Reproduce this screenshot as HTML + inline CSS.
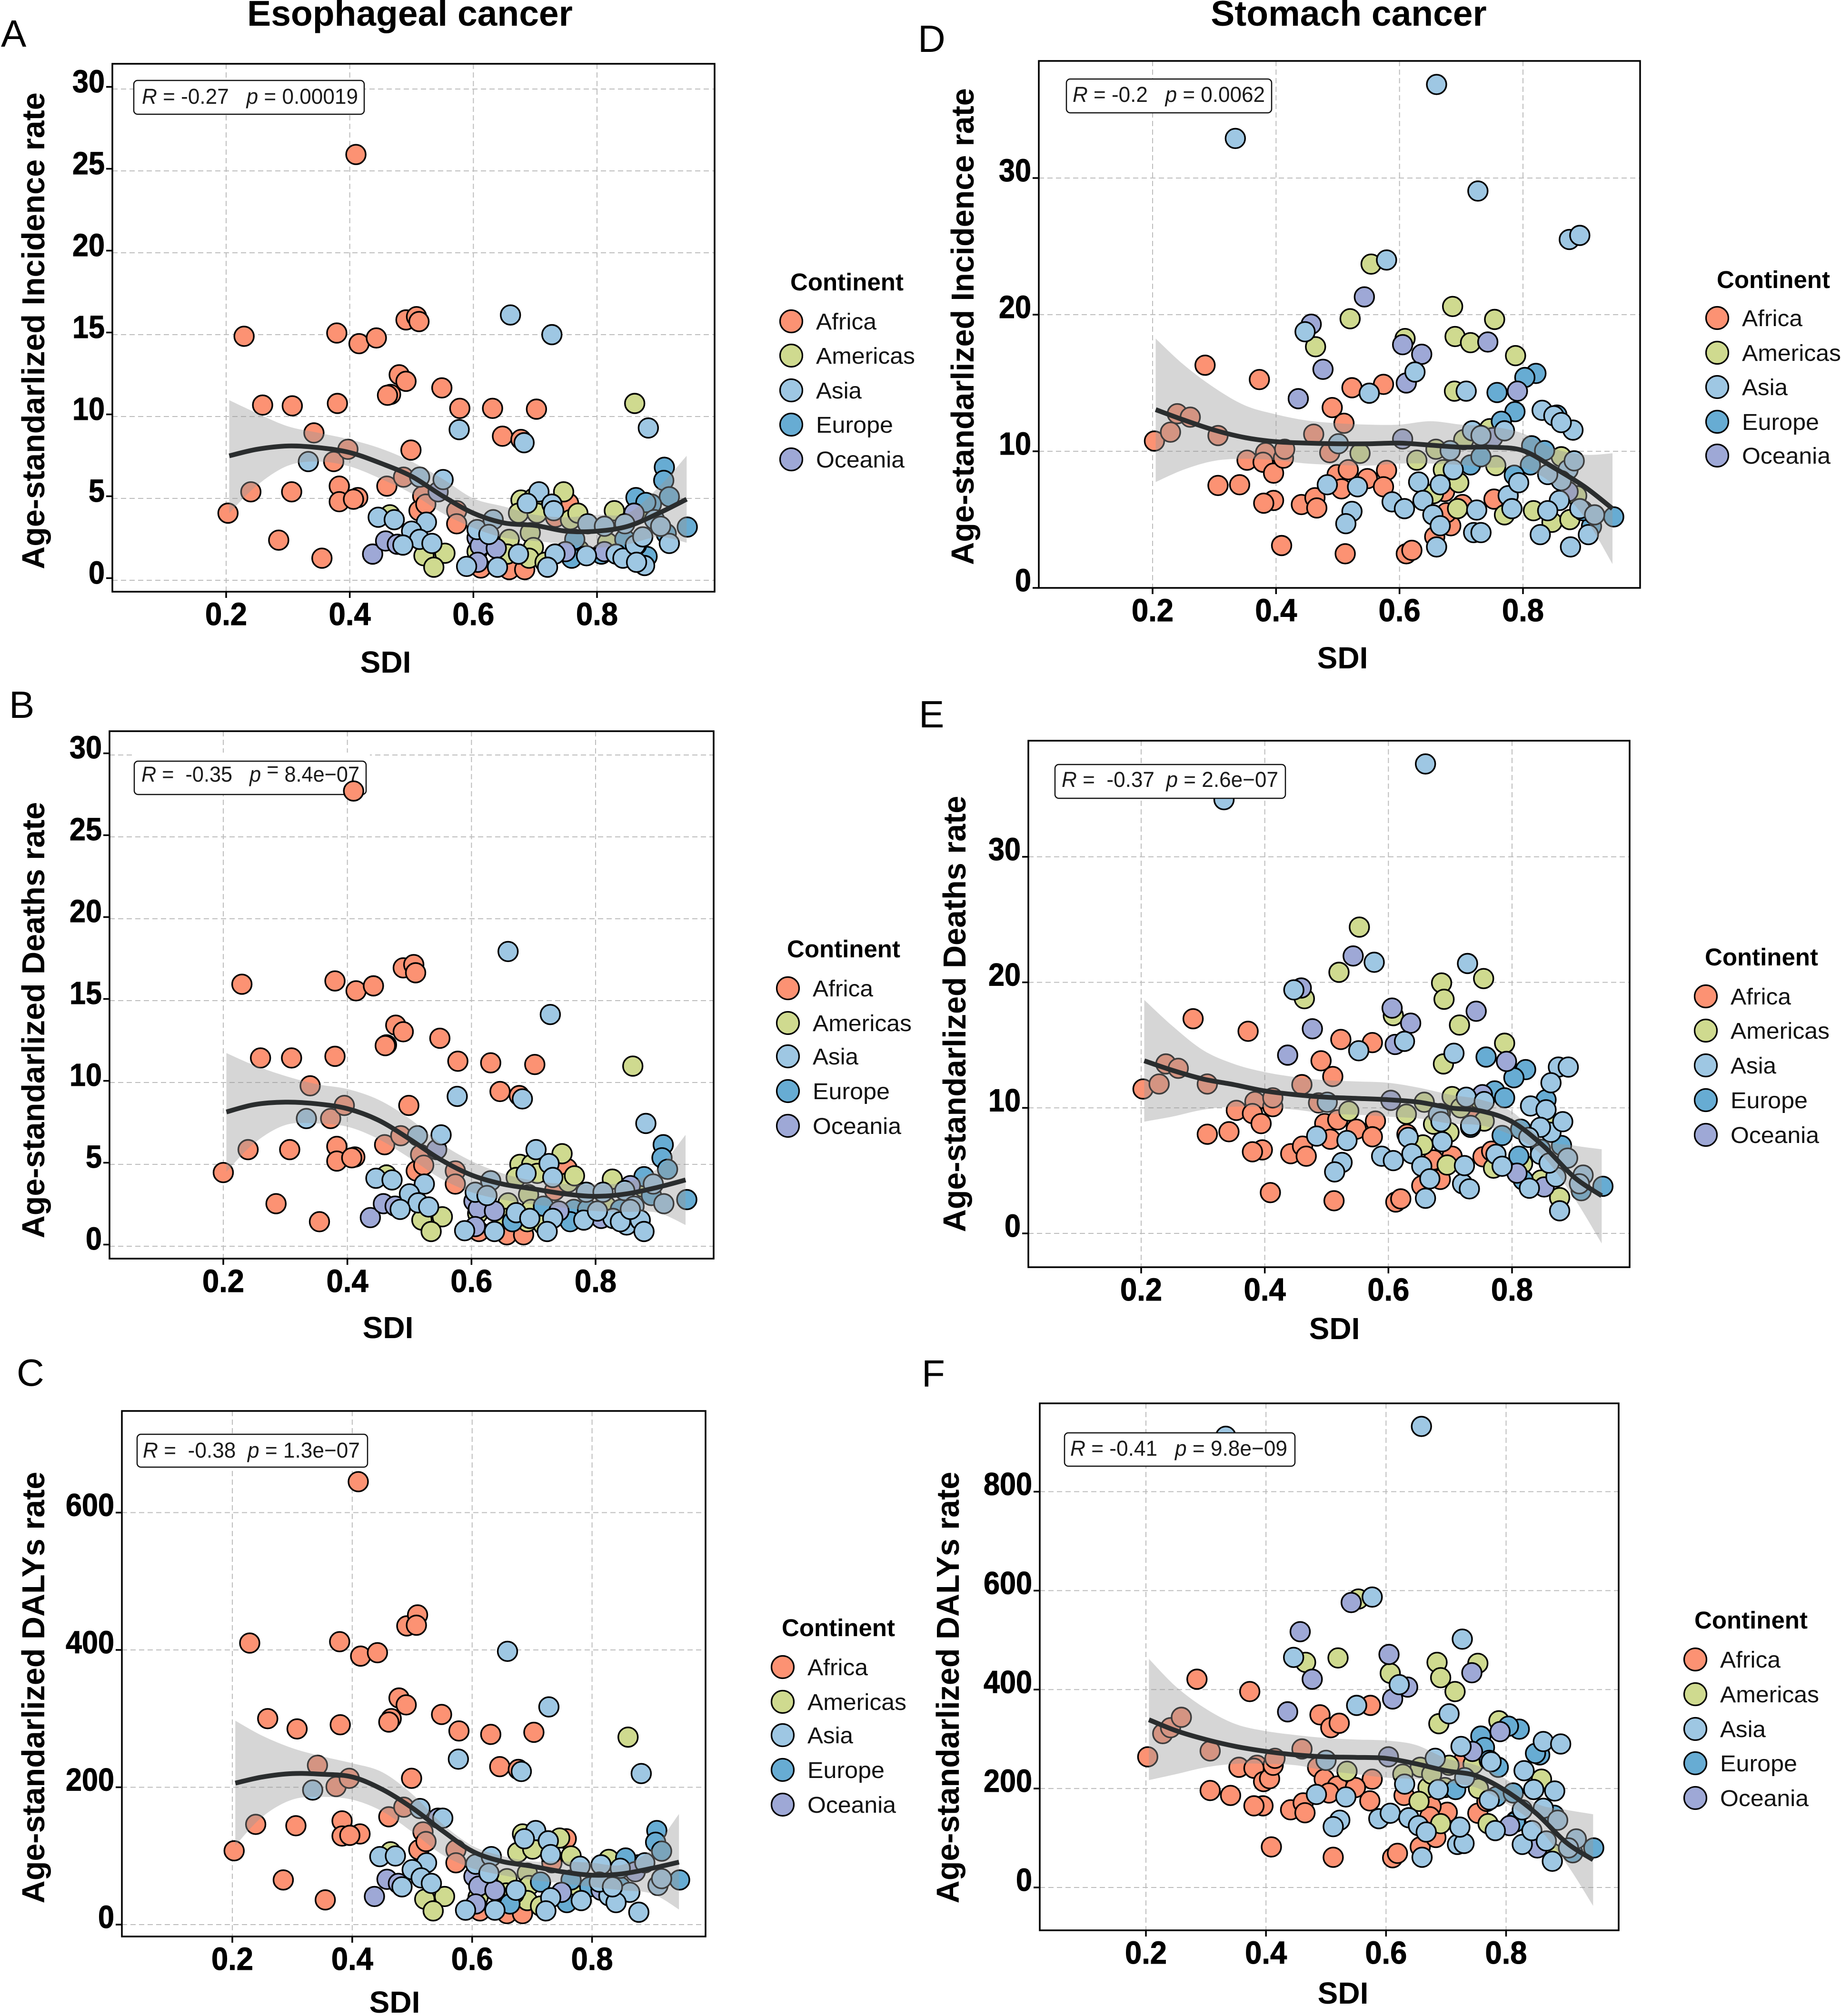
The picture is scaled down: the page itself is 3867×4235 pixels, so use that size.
<!DOCTYPE html>
<html lang="en">
<head>
<meta charset="utf-8">
<title>SDI vs age-standardized rates: esophageal and stomach cancer</title>
<style>
html,body{margin:0;padding:0;background:#fff}
svg{display:block;font-family:"Liberation Sans",Arial,sans-serif}
text{white-space:pre}
.title{font-size:75px;font-weight:700;text-anchor:middle}
.letter{font-size:80px}
.ylab{font-size:66.5px;font-weight:700;text-anchor:middle}
.xlab{font-size:64px;font-weight:700;text-anchor:middle}
.stat{font-size:45px;fill:#1a1a1a}
.stat-box{fill:#fff;stroke:#111;stroke-width:2.5}
.leg-title{font-size:51px;font-weight:700}
.leg-label{font-size:48px;fill:#111}
.leg-dot{stroke:#000;stroke-width:3.2}
.africa{fill:#FC9273}.americas{fill:#CFDA8F}.asia{fill:#9EC7E3}.europe{fill:#67ACD3}.oceania{fill:#9EA8D6}
</style>
</head>
<body>
<svg id="figure" xmlns="http://www.w3.org/2000/svg" width="3867" height="4235" viewBox="0 0 3867 4235">
<rect x="0" y="0" width="3867" height="4235" fill="#fff"/>
<text class="title" x="861" y="54">Esophageal cancer</text>
<text class="title" x="2833" y="54">Stomach cancer</text>

<g id="panel-a">
<text class="letter" x="2" y="98">A</text>
<g class="grid"></g>
<g class="marks"></g>
<g><rect class="stat-box" x="281" y="169" width="484" height="71" rx="8"/><text class="stat" x="298" y="218" textLength="454" lengthAdjust="spacingAndGlyphs"><tspan font-style="italic">R</tspan> = -0.27   <tspan font-style="italic">p</tspan> = 0.00019</text></g>
<text class="ylab" transform="translate(93,695) rotate(-90)">Age-standarlized Incidence rate</text>
<text class="xlab" x="810" y="1413">SDI</text>
<g>
<text class="leg-title" x="1660" y="610">Continent</text>
<g><circle class="leg-dot africa" cx="1662" cy="675" r="23.5"/><text class="leg-label" x="1714" y="692" textLength="127" lengthAdjust="spacingAndGlyphs">Africa</text></g>
<g><circle class="leg-dot americas" cx="1662" cy="747" r="23.5"/><text class="leg-label" x="1714" y="764" textLength="208" lengthAdjust="spacingAndGlyphs">Americas</text></g>
<g><circle class="leg-dot asia" cx="1662" cy="820" r="23.5"/><text class="leg-label" x="1714" y="837" textLength="96" lengthAdjust="spacingAndGlyphs">Asia</text></g>
<g><circle class="leg-dot europe" cx="1662" cy="892" r="23.5"/><text class="leg-label" x="1714" y="909" textLength="162" lengthAdjust="spacingAndGlyphs">Europe</text></g>
<g><circle class="leg-dot oceania" cx="1662" cy="965" r="23.5"/><text class="leg-label" x="1714" y="982" textLength="186" lengthAdjust="spacingAndGlyphs">Oceania</text></g>
</g>
</g>

<g id="panel-b">
<text class="letter" x="19" y="1508">B</text>
<g class="grid"></g>
<g><rect x="277" y="1581" width="500" height="18" fill="#fff"/><rect class="stat-box" x="282" y="1599" width="487" height="70" rx="8"/><text class="stat" x="297" y="1642" textLength="458" lengthAdjust="spacingAndGlyphs"><tspan font-style="italic">R</tspan> =  -0.35   <tspan font-style="italic">p</tspan> <tspan dy="-10">=</tspan> <tspan dy="10">8.4e−07</tspan></text></g>
<g class="marks"></g>
<text class="ylab" transform="translate(93,2143) rotate(-90)">Age-standarlized Deaths rate</text>
<text class="xlab" x="815" y="2811">SDI</text>
<g>
<text class="leg-title" x="1653" y="2011">Continent</text>
<g><circle class="leg-dot africa" cx="1655" cy="2076" r="23.5"/><text class="leg-label" x="1707" y="2093" textLength="127" lengthAdjust="spacingAndGlyphs">Africa</text></g>
<g><circle class="leg-dot americas" cx="1655" cy="2149" r="23.5"/><text class="leg-label" x="1707" y="2166" textLength="208" lengthAdjust="spacingAndGlyphs">Americas</text></g>
<g><circle class="leg-dot asia" cx="1655" cy="2219" r="23.5"/><text class="leg-label" x="1707" y="2236" textLength="96" lengthAdjust="spacingAndGlyphs">Asia</text></g>
<g><circle class="leg-dot europe" cx="1655" cy="2292" r="23.5"/><text class="leg-label" x="1707" y="2309" textLength="162" lengthAdjust="spacingAndGlyphs">Europe</text></g>
<g><circle class="leg-dot oceania" cx="1655" cy="2365" r="23.5"/><text class="leg-label" x="1707" y="2382" textLength="186" lengthAdjust="spacingAndGlyphs">Oceania</text></g>
</g>
</g>

<g id="panel-c">
<text class="letter" x="35" y="2911">C</text>
<g class="grid"></g>
<g class="marks"></g>
<g><rect class="stat-box" x="288" y="3013" width="484" height="69" rx="8"/><text class="stat" x="300" y="3062" textLength="456" lengthAdjust="spacingAndGlyphs"><tspan font-style="italic">R</tspan> =  -0.38  <tspan font-style="italic">p</tspan> = 1.3e−07</text></g>
<text class="ylab" transform="translate(93,3545) rotate(-90)">Age-standarlized DALYs rate</text>
<text class="xlab" x="829" y="4228">SDI</text>
<g>
<text class="leg-title" x="1642" y="3437">Continent</text>
<g><circle class="leg-dot africa" cx="1644" cy="3502" r="23.5"/><text class="leg-label" x="1696" y="3519" textLength="127" lengthAdjust="spacingAndGlyphs">Africa</text></g>
<g><circle class="leg-dot americas" cx="1644" cy="3575" r="23.5"/><text class="leg-label" x="1696" y="3592" textLength="208" lengthAdjust="spacingAndGlyphs">Americas</text></g>
<g><circle class="leg-dot asia" cx="1644" cy="3645" r="23.5"/><text class="leg-label" x="1696" y="3662" textLength="96" lengthAdjust="spacingAndGlyphs">Asia</text></g>
<g><circle class="leg-dot europe" cx="1644" cy="3718" r="23.5"/><text class="leg-label" x="1696" y="3735" textLength="162" lengthAdjust="spacingAndGlyphs">Europe</text></g>
<g><circle class="leg-dot oceania" cx="1644" cy="3791" r="23.5"/><text class="leg-label" x="1696" y="3808" textLength="186" lengthAdjust="spacingAndGlyphs">Oceania</text></g>
</g>
</g>

<g id="panel-d">
<text class="letter" x="1928" y="109">D</text>
<g class="grid"></g>
<g class="marks"></g>
<g><rect class="stat-box" x="2240" y="166" width="431" height="71" rx="8"/><text class="stat" x="2253" y="214" textLength="404" lengthAdjust="spacingAndGlyphs"><tspan font-style="italic">R</tspan> = -0.2   <tspan font-style="italic">p</tspan> = 0.0062</text></g>
<text class="ylab" transform="translate(2045,686) rotate(-90)">Age-standarlized Incidence rate</text>
<text class="xlab" x="2820" y="1404">SDI</text>
<g>
<text class="leg-title" x="3606" y="605">Continent</text>
<g><circle class="leg-dot africa" cx="3607" cy="668" r="23.5"/><text class="leg-label" x="3659" y="685" textLength="127" lengthAdjust="spacingAndGlyphs">Africa</text></g>
<g><circle class="leg-dot americas" cx="3607" cy="741" r="23.5"/><text class="leg-label" x="3659" y="758" textLength="208" lengthAdjust="spacingAndGlyphs">Americas</text></g>
<g><circle class="leg-dot asia" cx="3607" cy="813" r="23.5"/><text class="leg-label" x="3659" y="830" textLength="96" lengthAdjust="spacingAndGlyphs">Asia</text></g>
<g><circle class="leg-dot europe" cx="3607" cy="886" r="23.5"/><text class="leg-label" x="3659" y="903" textLength="162" lengthAdjust="spacingAndGlyphs">Europe</text></g>
<g><circle class="leg-dot oceania" cx="3607" cy="957" r="23.5"/><text class="leg-label" x="3659" y="974" textLength="186" lengthAdjust="spacingAndGlyphs">Oceania</text></g>
</g>
</g>

<g id="panel-e">
<text class="letter" x="1930" y="1528">E</text>
<g class="grid"></g>
<g class="marks"></g>
<g><rect class="stat-box" x="2216" y="1606" width="484" height="71" rx="8"/><text class="stat" x="2230" y="1653" textLength="455" lengthAdjust="spacingAndGlyphs"><tspan font-style="italic">R</tspan> =  -0.37  <tspan font-style="italic">p</tspan> = 2.6e−07</text></g>
<text class="ylab" transform="translate(2028,2130) rotate(-90)">Age-standarlized Deaths rate</text>
<text class="xlab" x="2803" y="2813">SDI</text>
<g>
<text class="leg-title" x="3581" y="2028">Continent</text>
<g><circle class="leg-dot africa" cx="3583" cy="2093" r="23.5"/><text class="leg-label" x="3635" y="2110" textLength="127" lengthAdjust="spacingAndGlyphs">Africa</text></g>
<g><circle class="leg-dot americas" cx="3583" cy="2165" r="23.5"/><text class="leg-label" x="3635" y="2182" textLength="208" lengthAdjust="spacingAndGlyphs">Americas</text></g>
<g><circle class="leg-dot asia" cx="3583" cy="2238" r="23.5"/><text class="leg-label" x="3635" y="2255" textLength="96" lengthAdjust="spacingAndGlyphs">Asia</text></g>
<g><circle class="leg-dot europe" cx="3583" cy="2311" r="23.5"/><text class="leg-label" x="3635" y="2328" textLength="162" lengthAdjust="spacingAndGlyphs">Europe</text></g>
<g><circle class="leg-dot oceania" cx="3583" cy="2384" r="23.5"/><text class="leg-label" x="3635" y="2401" textLength="186" lengthAdjust="spacingAndGlyphs">Oceania</text></g>
</g>
</g>

<g id="panel-f">
<text class="letter" x="1936" y="2913">F</text>
<g class="grid"></g>
<g class="marks"></g>
<g><rect class="stat-box" x="2236" y="3010" width="484" height="70" rx="8"/><text class="stat" x="2248" y="3058" textLength="456" lengthAdjust="spacingAndGlyphs"><tspan font-style="italic">R</tspan> = -0.41   <tspan font-style="italic">p</tspan> = 9.8e−09</text></g>
<text class="ylab" transform="translate(2014,3545) rotate(-90)">Age-standarlized DALYs rate</text>
<text class="xlab" x="2821" y="4209">SDI</text>
<g>
<text class="leg-title" x="3559" y="3421">Continent</text>
<g><circle class="leg-dot africa" cx="3561" cy="3486" r="23.5"/><text class="leg-label" x="3613" y="3503" textLength="127" lengthAdjust="spacingAndGlyphs">Africa</text></g>
<g><circle class="leg-dot americas" cx="3561" cy="3559" r="23.5"/><text class="leg-label" x="3613" y="3576" textLength="208" lengthAdjust="spacingAndGlyphs">Americas</text></g>
<g><circle class="leg-dot asia" cx="3561" cy="3632" r="23.5"/><text class="leg-label" x="3613" y="3649" textLength="96" lengthAdjust="spacingAndGlyphs">Asia</text></g>
<g><circle class="leg-dot europe" cx="3561" cy="3704" r="23.5"/><text class="leg-label" x="3613" y="3721" textLength="162" lengthAdjust="spacingAndGlyphs">Europe</text></g>
<g><circle class="leg-dot oceania" cx="3561" cy="3777" r="23.5"/><text class="leg-label" x="3613" y="3794" textLength="186" lengthAdjust="spacingAndGlyphs">Oceania</text></g>
</g>
</g>
</svg>

<script>
// Shared axes data
const sdiTicks = [0.2, 0.4, 0.6, 0.8];
const rateTicksEso = [0, 5, 10, 15, 20, 25, 30];
const rateTicksSto = [0, 10, 20, 30];
const dalyTicksEso = [0, 200, 400, 600];
const dalyTicksSto = [0, 200, 400, 600, 800];
const curveSdi = [0.205, 0.25, 0.3, 0.35, 0.4, 0.45, 0.5, 0.55, 0.6, 0.65, 0.7, 0.75, 0.8, 0.85, 0.9, 0.945];

// Panel A: esophageal incidence [sdi, rate]
const aAfrica = [[.41,26],[.203,4.1],[.24,5.4],[.229,14.9],[.259,10.7],[.307,10.65],[.285,2.45],[.342,9],[.306,5.4],[.355,1.35],[.374,7.25],[.397,8],[.379,15.1],[.415,14.45],[.443,14.8],[.38,10.8],[.383,5.75],[.383,4.8],[.413,5.05],[.406,4.95],[.46,5.75],[.487,6.3],[.48,12.55],[.491,12.15],[.466,11.35],[.461,11.3],[.491,15.9],[.508,16.1],[.512,15.8],[.499,7.95],[.518,5.15],[.512,4.25],[.523,4.65],[.549,11.75],[.578,10.5],[.631,10.5],[.702,10.45],[.647,8.8],[.677,8.6],[.573,4.25],[.573,3.45],[.612,.75],[.62,2.55],[.658,.65],[.683,.65],[.754,4.7],[.733,3.85]];
const aAmericas = [[.861,10.8],[.465,4],[.52,1.5],[.554,1.65],[.536,.8],[.746,5.4],[.677,4.9],[.697,5],[.673,4.1],[.703,4.1],[.692,2.9],[.658,2.5],[.697,2],[.757,3.7],[.769,4.1],[.655,1.6],[.69,1.35],[.716,1.1],[.771,1.85],[.828,4.25],[.877,4.2],[.817,2.3],[.606,1.75]];
const aAsia = [[.66,16.2],[.727,15],[.883,9.3],[.577,9.2],[.682,8.4],[.333,7.25],[.513,6.3],[.551,6.15],[.446,3.85],[.472,3.7],[.524,3.55],[.5,3],[.513,2.5],[.533,2.25],[.486,2.15],[.606,3.1],[.632,3.7],[.625,2.8],[.706,5.4],[.727,4.65],[.687,4.7],[.73,4.25],[.589,.85],[.639,.8],[.673,1.6],[.732,1.6],[.72,.8],[.785,3.45],[.812,3.3],[.845,3.45],[.893,3.7],[.864,2.15],[.917,2.25],[.831,1.6],[.842,1.35],[.862,2.15],[.877,.9],[.864,1.1],[.783,1.5],[.903,3.3],[.874,2.65]];
const aEurope = [[.946,3.25],[.909,6.9],[.908,6.1],[.917,5.1],[.863,5.05],[.764,2.5],[.759,1.35],[.912,2.85],[.888,4.65],[.879,4.75],[.845,2.5],[.807,1.6],[.881,1.45]];
const aOceania = [[.437,1.6],[.458,2.4],[.477,2.2],[.543,5.4],[.606,2.6],[.611,2.1],[.637,1.95],[.607,1.1],[.749,1.75],[.86,4.1],[.812,1.75]];
const aFit = [7.6,8,8.2,8.1,7.8,7.15,6.35,5.15,4.1,3.5,3.35,3,3,3.3,4.1,4.95];
const aHi = [11,10.2,9.4,9,8.6,8.05,7.25,6.2,5,4.5,4,3.85,4,4.1,5.7,7.6];
const aLo = [4.1,5.8,7,7.25,6.95,6.2,5.3,4.1,3.2,2.6,2.4,2.2,2,2.2,2.65,2.3];

// Panel B: esophageal deaths [sdi, rate]
const bAfrica = [[.2,4.5],[.24,5.9],[.23,16],[.26,11.5],[.31,11.5],[.285,2.6],[.34,9.8],[.307,5.9],[.355,1.5],[.373,7.8],[.395,8.6],[.38,16.2],[.414,15.6],[.442,15.9],[.38,11.6],[.383,6.1],[.383,5.2],[.412,5.45],[.407,5.4],[.46,6.2],[.486,6.75],[.478,13.5],[.49,13.1],[.463,12.3],[.461,12.25],[.49,17],[.507,17.2],[.51,16.7],[.499,8.6],[.518,5.6],[.511,4.6],[.523,4.95],[.549,12.7],[.578,11.3],[.631,11.2],[.702,11.1],[.646,9.45],[.677,9.2],[.574,4.6],[.574,3.8],[.612,.9],[.62,2.55],[.657,.7],[.684,.7],[.754,4.75],[.734,3.4],[.41,27.8]];
const bAmericas = [[.86,11],[.463,4.35],[.52,1.6],[.553,1.8],[.535,.9],[.746,5.65],[.678,5],[.697,5],[.672,4.2],[.706,4.45],[.692,3.15],[.659,2.65],[.696,2.25],[.756,3.9],[.766,4.3],[.655,1.7],[.69,1.5],[.716,1.3],[.773,2.05],[.827,4.1],[.877,3.6],[.817,2.45],[.61,2]];
const bAsia = [[.659,18],[.727,14.15],[.881,7.5],[.577,9.15],[.682,9],[.334,7.8],[.513,6.75],[.551,6.8],[.446,4.15],[.472,4.05],[.524,3.8],[.5,3.2],[.514,2.65],[.531,2.4],[.485,2.25],[.606,3.3],[.631,4],[.625,3.1],[.704,5.9],[.725,5.05],[.688,4.45],[.731,4.2],[.589,.95],[.637,.9],[.672,2.05],[.731,1.7],[.722,.9],[.785,3.3],[.812,3.3],[.847,3.4],[.893,3.8],[.862,2.45],[.91,2.6],[.828,1.7],[.85,1.3],[.872,1.6],[.878,.9],[.84,1.5],[.781,1.6],[.803,2.15],[.694,1.7],[.856,2.25]];
const bEurope = [[.947,2.85],[.909,6.2],[.907,5.4],[.916,4.7],[.765,2.25],[.878,4.25],[.759,1.5],[.84,2.25],[.89,3.1],[.716,2.45],[.666,1.5],[.787,2.25]];
const bOceania = [[.437,1.75],[.458,2.6],[.477,2.45],[.544,5.9],[.604,2.75],[.611,2.3],[.637,2.15],[.606,1.2],[.741,2.15],[.856,3.7],[.809,1.7]];
const bFit = [8.2,8.65,8.8,8.7,8.4,7.7,6.55,5.3,4.35,3.8,3.5,3.2,3.05,3.2,3.6,4.05];
const bHi = [11.8,11.05,10.4,9.9,9.6,8.95,7.8,6.3,5.2,4.45,4,3.8,3.8,3.9,4.75,6.8];
const bLo = [4.55,6.3,7.4,7.5,7.3,6.55,5.4,4.15,3.3,2.85,2.55,2.35,2.15,2.1,2.05,1.3];

// Panel C: esophageal DALYs [sdi, rate]
const cAfrica = [[.203,107.5],[.239,146],[.229,410],[.259,300],[.308,285],[.285,65],[.342,232],[.306,144],[.355,36],[.373,201],[.395,213],[.379,412],[.414,391],[.442,396],[.38,291],[.383,151],[.383,129],[.413,132],[.396,130],[.461,157],[.486,171],[.478,330],[.49,320],[.465,300],[.461,295],[.491,435],[.509,451],[.507,436],[.499,213],[.518,135],[.511,109],[.523,121],[.549,306],[.578,282],[.631,277],[.703,280],[.646,230],[.677,226],[.573,109],[.573,90],[.613,20],[.621,66],[.658,16],[.684,16],[.757,125],[.733,90],[.41,645]];
const cAmericas = [[.86,273],[.464,106],[.521,37],[.554,41],[.535,20],[.746,126],[.684,132],[.676,105],[.701,110],[.692,75],[.658,67],[.695,57],[.765,100],[.657,46],[.692,35],[.714,27],[.771,52],[.828,95],[.877,87],[.815,62],[.61,40],[.67,45]];
const cAsia = [[.659,398],[.728,317],[.882,220],[.577,241],[.682,223],[.334,196],[.513,169],[.551,155],[.446,99],[.472,100],[.524,90],[.5,80],[.515,68],[.532,60],[.483,55],[.606,88],[.632,99],[.628,75],[.706,137],[.727,122],[.687,125],[.731,102],[.589,21],[.638,21],[.673,50],[.731,39],[.723,20],[.78,85],[.815,87],[.847,82],[.888,90],[.828,42],[.863,47],[.878,18],[.84,32],[.782,35],[.812,62],[.91,57],[.916,67],[.834,55]];
const cEurope = [[.946,65],[.908,137],[.906,120],[.916,107],[.856,97],[.765,65],[.758,32],[.847,55],[.714,62],[.796,55],[.663,30]];
const cOceania = [[.437,41],[.458,66],[.477,60],[.543,155],[.603,70],[.611,56],[.638,50],[.606,30],[.749,47],[.872,77],[.815,50]];
const cFit = [206,215,220,219,215,197,170,137,107,92,85,77,72,74,82,91];
const cHi = [297,275,257,245,235,222,190,147,115,100,92,92,90,87,110,161];
const cLo = [115,157,182,186,182,165,135,102,82,72,65,60,55,50,45,22];

// Panel D: stomach incidence [sdi, rate]
const dAfrica = [[.203,10.75],[.229,11.4],[.24,12.75],[.261,12.5],[.285,16.3],[.306,11.15],[.306,7.5],[.341,7.55],[.373,15.25],[.353,9.35],[.383,9.9],[.379,9.2],[.396,8.4],[.412,9.5],[.414,10.15],[.396,6.4],[.38,6.2],[.409,3.1],[.441,6.1],[.461,11.25],[.463,6.6],[.466,5.85],[.491,13.2],[.51,12.05],[.487,9.9],[.523,14.65],[.574,14.9],[.499,8.3],[.517,8.65],[.579,8.6],[.548,8],[.574,7.4],[.506,7.25],[.512,2.5],[.611,2.5],[.62,2.75],[.657,3.75],[.683,4.55],[.702,6.1],[.753,6.5],[.676,5.5],[.737,11],[.673,7.05]];
const dAmericas = [[.554,23.7],[.52,19.7],[.609,18.25],[.464,17.65],[.686,20.6],[.69,18.4],[.715,17.95],[.754,19.65],[.788,17],[.689,14.4],[.746,11.65],[.704,10.85],[.659,10.15],[.536,9.85],[.628,9.35],[.671,8.65],[.696,7.7],[.655,6.9],[.756,8.95],[.77,5.35],[.817,5.65],[.847,4.8],[.876,5],[.862,9.6],[.694,5.8],[.887,6.75]];
const dAsia = [[.66,36.85],[.334,32.9],[.727,29.05],[.875,25.5],[.892,25.8],[.579,24],[.447,18.75],[.625,15.8],[.551,14.25],[.708,14.4],[.881,11.55],[.831,13],[.85,12.6],[.862,12.1],[.501,10.55],[.483,7.55],[.532,7.4],[.631,7.75],[.588,6.3],[.608,5.8],[.638,6.4],[.654,5.35],[.666,7.55],[.687,8.65],[.666,4.55],[.66,3],[.523,5.6],[.513,4.7],[.72,4.05],[.732,4.05],[.725,5.7],[.776,6.75],[.782,5.8],[.828,3.9],[.877,3],[.859,6.4],[.84,5.65],[.873,8.65],[.883,9.3],[.862,7.85],[.84,8.3],[.892,5.8],[.906,3.9],[.916,5.35],[.718,11.5],[.732,11.15],[.77,11.5],[.793,7.7],[.682,10.05]];
const dEurope = [[.821,15.7],[.803,15.4],[.758,14.3],[.787,12.9],[.765,12.2],[.855,12.65],[.814,10.4],[.835,10.05],[.812,9],[.786,8.25],[.715,9],[.732,9.6],[.947,5.2],[.911,4.5],[.897,5.65]];
const dOceania = [[.457,19.3],[.543,21.3],[.605,17.8],[.636,17.1],[.476,16],[.436,13.85],[.611,15],[.743,18],[.791,14.4],[.605,10.9],[.751,11],[.873,7.05]];
const dFit = [13.05,12.3,11.55,11,10.7,10.6,10.55,10.55,10.6,10.45,10.3,10.3,10.05,8.8,7.4,5.8];
const dHi = [18.25,16.35,14.65,13.35,12.7,12.25,12.05,11.95,11.95,12.2,11.95,11.8,11.3,10.2,9.75,9.85];
const dLo = [7.75,8.65,9.3,9.45,9.35,9.1,9,8.95,9.1,9.1,9,8.8,8.8,7.55,5.15,1.75];

// Panel E: stomach deaths [sdi, rate]
const eAfrica = [[.203,11.5],[.229,11.9],[.24,13.5],[.26,13.15],[.284,17.1],[.307,11.9],[.307,7.9],[.342,8.1],[.373,16.1],[.354,9.8],[.384,10.5],[.38,9.55],[.394,8.75],[.413,10.1],[.413,10.8],[.396,6.65],[.38,6.5],[.409,3.25],[.442,6.35],[.46,11.85],[.461,6.95],[.467,6.15],[.491,13.75],[.51,12.5],[.487,10.4],[.523,15.45],[.574,15.2],[.497,8.75],[.518,9.05],[.579,8.95],[.548,8.3],[.574,7.7],[.506,7.5],[.512,2.6],[.612,2.5],[.62,2.75],[.654,3.8],[.684,4.3],[.703,6.15],[.753,6.1],[.673,5.85],[.63,7.9],[.767,6.55],[.733,9.7]];
const eAmericas = [[.553,24.4],[.52,20.8],[.608,17.35],[.464,18.7],[.686,19.95],[.69,18.65],[.715,16.6],[.754,20.3],[.788,15.15],[.689,13.5],[.745,10.75],[.703,10.9],[.658,10.45],[.536,9.75],[.629,9.5],[.673,8.7],[.698,8.05],[.656,7.05],[.755,8.95],[.77,5.2],[.817,5.55],[.847,4.25],[.877,2.85],[.858,8.75],[.695,5.45],[.684,9.55],[.717,10]];
const eAsia = [[.66,37.4],[.334,34.55],[.577,21.6],[.447,19.4],[.626,15.3],[.552,14.55],[.706,14.35],[.728,21.5],[.875,13.25],[.891,13.25],[.863,12],[.83,10.15],[.855,9.85],[.501,10.45],[.484,7.75],[.533,7.4],[.632,7.65],[.589,6.15],[.608,5.8],[.638,6.35],[.654,5.35],[.687,7.3],[.681,9.5],[.667,4.35],[.66,2.8],[.525,5.65],[.513,4.9],[.72,3.95],[.731,3.55],[.723,5.4],[.774,6.3],[.784,5.35],[.828,3.6],[.877,1.8],[.863,8.05],[.846,6.3],[.882,8.9],[.846,8.45],[.827,7.65],[.871,4.5],[.89,6],[.915,4.65],[.909,3.95],[.726,10.85],[.755,10.5],[.685,8.9],[.733,8.6],[.86,5.6]];
const eEurope = [[.758,14.05],[.822,13.05],[.803,12.4],[.772,11.35],[.788,10.8],[.855,10.65],[.733,8.45],[.784,7.8],[.811,6.15],[.947,3.75],[.912,3.4],[.88,7],[.814,8.3],[.846,6.7],[.818,4.25]];
const eOceania = [[.459,19.55],[.543,22.1],[.606,17.95],[.636,16.75],[.477,16.3],[.437,14.2],[.611,15.05],[.742,17.7],[.791,13.7],[.604,10.6],[.752,11.05],[.852,3.7],[.808,4.8]];
const eFit = [13.75,13,12.3,11.85,11.35,11.05,10.85,10.75,10.65,10.45,10,9.75,8.9,7,4.5,3];
const eHi = [18.6,16.55,14.6,13.5,12.85,12.45,12.2,12.1,12,11.6,11.05,10.65,9.7,7.5,7,6.7];
const eLo = [8.9,9.3,9.85,10.1,10.05,9.85,9.55,9.45,9.3,9.15,8.75,8.6,7.8,6.15,2.85,-0.8];

// Panel F: stomach DALYs [sdi, rate]
const fAfrica = [[.203,264],[.228,311],[.241,323],[.259,344],[.285,421],[.307,276],[.307,196],[.341,186],[.373,396],[.355,243],[.385,247],[.38,241],[.396,214],[.406,220],[.412,247],[.415,261],[.395,165],[.38,165],[.409,82],[.441,157],[.46,280],[.462,171],[.465,151],[.49,349],[.508,323],[.522,332],[.486,243],[.497,219],[.519,205],[.577,219],[.549,202],[.573,175],[.505,191],[.574,368],[.512,61],[.611,60],[.619,69],[.657,82],[.683,101],[.702,152],[.753,150],[.675,164],[.63,186],[.673,143],[.768,174],[.728,254]];
const fAmericas = [[.554,583],[.52,464],[.466,455],[.607,433],[.685,455],[.691,424],[.715,396],[.753,453],[.788,337],[.688,331],[.745,249],[.705,247],[.657,243],[.535,235],[.628,229],[.67,202],[.698,202],[.655,174],[.754,200],[.77,129],[.816,134],[.847,98],[.877,69],[.859,219],[.691,129],[.676,229]];
const fAsia = [[.659,932],[.333,912],[.577,587],[.446,465],[.622,410],[.551,368],[.705,351],[.727,502],[.862,295],[.891,290],[.83,236],[.5,257],[.484,188],[.533,183],[.631,209],[.588,139],[.607,150],[.638,141],[.654,125],[.687,198],[.682,261],[.667,112],[.66,61],[.523,136],[.512,123],[.719,87],[.73,89],[.723,122],[.772,177],[.782,115],[.827,87],[.877,53],[.862,160],[.843,115],[.881,195],[.846,198],[.827,157],[.867,94],[.886,136],[.917,98],[.904,80],[.725,285],[.775,254],[.731,222]];
const fEurope = [[.758,306],[.822,320],[.804,326],[.764,283],[.772,257],[.787,243],[.856,268],[.849,271],[.716,198],[.784,184],[.815,132],[.946,80],[.911,70],[.88,146],[.846,198],[.812,191]];
const fOceania = [[.457,517],[.542,576],[.605,471],[.636,405],[.477,421],[.436,355],[.611,381],[.743,434],[.79,315],[.604,264],[.744,275],[.852,80],[.806,125]];
const fFit = [339,317,299,285,275,268,264,263,261,250,236,226,195,150,91,56];
const fHi = [462,406,361,330,316,308,302,299,297,288,261,247,219,170,157,148];
const fLo = [217,229,243,250,250,247,236,229,222,219,212,202,170,125,49,-37];

const SVG_NS = 'http://www.w3.org/2000/svg';

function make(parent, tag, attrs, name) {
  const el = document.createElementNS(SVG_NS, tag);
  for (const k in attrs) el.setAttribute(k, attrs[k]);
  
  
  parent.appendChild(el);
  return el;
}

function smooth(pts, start) {
  let d = (start ? 'M' : 'L') + pts[0][0].toFixed(1) + ' ' + pts[0][1].toFixed(1);
  for (let i = 0; i < pts.length - 1; i++) {
    const p0 = pts[Math.max(i - 1, 0)], p1 = pts[i], p2 = pts[i + 1], p3 = pts[Math.min(i + 2, pts.length - 1)];
    const c1x = p1[0] + (p2[0] - p0[0]) / 6, c1y = p1[1] + (p2[1] - p0[1]) / 6;
    const c2x = p2[0] - (p3[0] - p1[0]) / 6, c2y = p2[1] - (p3[1] - p1[1]) / 6;
    d += 'C' + c1x.toFixed(1) + ' ' + c1y.toFixed(1) + ' ' + c2x.toFixed(1) + ' ' + c2y.toFixed(1) + ' ' + p2[0].toFixed(1) + ' ' + p2[1].toFixed(1);
  }
  return d;
}

function tickAttrs(label, x, y, anchor) {
  const dots = (label.match(/\./g) || []).length;
  const digits = label.length - dots;
  return {x: x, y: y, 'text-anchor': anchor, 'font-size': 67, 'font-weight': 700, stroke: '#000', 'stroke-width': 1, textLength: digits * 34 + dots * 20, lengthAdjust: 'spacingAndGlyphs'};
}

function drawPanel(cfg) {
  const root = document.getElementById(cfg.id);
  const grid = root.querySelector('.grid');
  const marks = root.querySelector('.marks');
  const xScale = v => cfg.x02 + (v - 0.2) * (cfg.x08 - cfg.x02) / 0.6;
  const yScale = v => cfg.y0 - v * cfg.unit;

  make(grid, 'rect', {x: cfg.l, y: cfg.t, width: cfg.r - cfg.l, height: cfg.b - cfg.t, fill: '#fff'}, 'plot-area');
  const dash = {stroke: '#bdbdbd', 'stroke-width': 2, 'stroke-dasharray': '11 7', fill: 'none'};
  cfg.yTicks.forEach(v => {
    const py = yScale(v);
    make(grid, 'line', Object.assign({x1: cfg.l, x2: cfg.r, y1: py, y2: py}, dash), 'y-gridline');
    make(grid, 'line', {x1: cfg.l - 13, x2: cfg.l, y1: py - cfg.tickShift, y2: py - cfg.tickShift, stroke: '#000', 'stroke-width': 3.5}, 'y-tick');
    const label = String(v);
    const t = make(grid, 'text', tickAttrs(label, cfg.l - 16, py + 7, 'end'), 'y-tick-label');
    t.textContent = label;
  });
  sdiTicks.forEach(v => {
    const px = xScale(v);
    make(grid, 'line', Object.assign({x1: px, x2: px, y1: cfg.t, y2: cfg.b}, dash), 'x-gridline');
    make(grid, 'line', {x1: px, x2: px, y1: cfg.b, y2: cfg.b + 13, stroke: '#000', 'stroke-width': 3.5}, 'x-tick');
    const label = v.toFixed(1);
    const t = make(grid, 'text', tickAttrs(label, px, cfg.b + 70, 'middle'), 'x-tick-label');
    t.textContent = label;
  });

  cfg.series.forEach(s => {
    s.values.forEach(p => {
      const c = make(marks, 'circle', {cx: xScale(p[0]).toFixed(1), cy: yScale(p[1]).toFixed(1), r: 20.5, fill: s.color, stroke: '#000', 'stroke-width': 3.4}, 'point');
      c.setAttribute('data-continent', s.name);
    });
  });

  const hi = curveSdi.map((x, i) => [xScale(x), yScale(cfg.hi[i])]);
  const lo = curveSdi.map((x, i) => [xScale(x), yScale(cfg.lo[i])]).reverse();
  const fit = curveSdi.map((x, i) => [xScale(x), yScale(cfg.fit[i])]);
  make(marks, 'path', {d: smooth(hi, true) + smooth(lo, false) + 'Z', fill: '#999', 'fill-opacity': 0.4, stroke: 'none'}, 'confidence-ribbon');
  make(marks, 'path', {d: smooth(fit, true), fill: 'none', stroke: '#2a2d2e', 'stroke-width': 10}, 'smooth-trend-line');
  make(marks, 'rect', {x: cfg.l, y: cfg.t, width: cfg.r - cfg.l, height: cfg.b - cfg.t, fill: 'none', stroke: '#000', 'stroke-width': 3.5}, 'plot-border');
}

function seriesOf(africa, americas, asia, europe, oceania) {
  return [
    {name: 'Africa', color: '#FC9273', values: africa},
    {name: 'Americas', color: '#CFDA8F', values: americas},
    {name: 'Europe', color: '#67ACD3', values: europe},
    {name: 'Oceania', color: '#9EA8D6', values: oceania},
    {name: 'Asia', color: '#9EC7E3', values: asia}
  ];
}

drawPanel({id: 'panel-a', l: 236, r: 1501, t: 134, b: 1243, x02: 475, x08: 1254, y0: 1219, unit: 34.4, tickShift: 4.5, yTicks: rateTicksEso, fit: aFit, hi: aHi, lo: aLo, series: seriesOf(aAfrica, aAmericas, aAsia, aEurope, aOceania)});
drawPanel({id: 'panel-b', l: 230, r: 1499, t: 1536, b: 2644, x02: 469, x08: 1251, y0: 2618, unit: 34.4, tickShift: 3.5, yTicks: rateTicksEso, fit: bFit, hi: bHi, lo: bLo, series: seriesOf(bAfrica, bAmericas, bAsia, bEurope, bOceania)});
drawPanel({id: 'panel-c', l: 256, r: 1482, t: 2964, b: 4068, x02: 488, x08: 1243.6, y0: 4043, unit: 1.4425, tickShift: 0, yTicks: dalyTicksEso, fit: cFit, hi: cHi, lo: cLo, series: seriesOf(cAfrica, cAmericas, cAsia, cEurope, cOceania)});
drawPanel({id: 'panel-d', l: 2182, r: 3445, t: 128, b: 1235, x02: 2421, x08: 3199, y0: 1235, unit: 28.7, tickShift: 0, yTicks: rateTicksSto, fit: dFit, hi: dHi, lo: dLo, series: seriesOf(dAfrica, dAmericas, dAsia, dEurope, dOceania)});
drawPanel({id: 'panel-e', l: 2160, r: 3423, t: 1556, b: 2662, x02: 2397, x08: 3176, y0: 2591, unit: 26.37, tickShift: 0, yTicks: rateTicksSto, fit: eFit, hi: eHi, lo: eLo, series: seriesOf(eAfrica, eAmericas, eAsia, eEurope, eOceania)});
drawPanel({id: 'panel-f', l: 2184, r: 3400, t: 2948, b: 4055, x02: 2407, x08: 3163.5, y0: 3965, unit: 1.0393, tickShift: 0, yTicks: dalyTicksSto, fit: fFit, hi: fHi, lo: fLo, series: seriesOf(fAfrica, fAmericas, fAsia, fEurope, fOceania)});
</script>
</body>
</html>
